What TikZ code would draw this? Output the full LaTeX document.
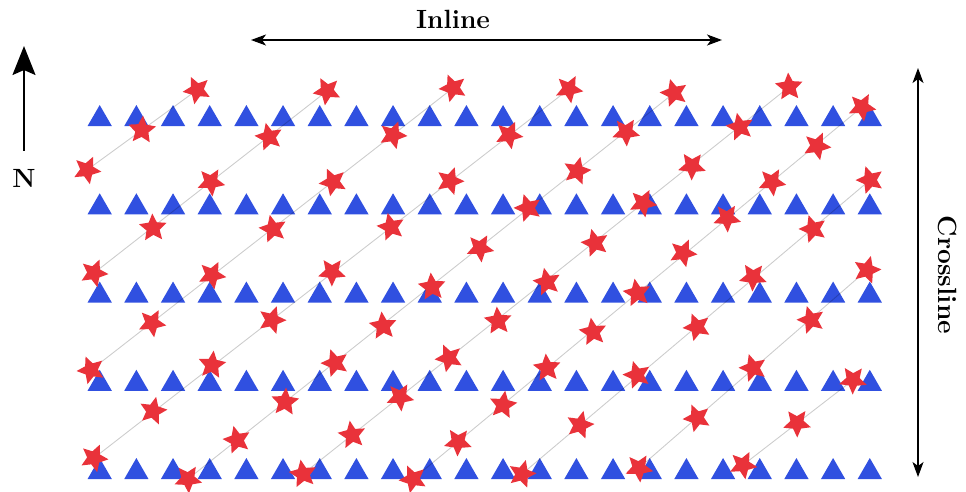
\documentclass[tikz,border=0pt]{standalone}
\usetikzlibrary{arrows.meta,backgrounds,shapes.geometric}
\definecolor{recblue}{RGB}{48,80,224}
\definecolor{shotred}{RGB}{233,50,58}

\begin{document}
\begin{tikzpicture}[x=0.02cm, y=-0.02cm,
        receiver/.style = {regular polygon, regular polygon sides=3,
                           fill=recblue, inner sep=0pt, minimum size=5.6mm},
            shot/.style = {star, star points=5, star point ratio=2.1,
                           fill=shotred, inner sep=0pt, minimum size=5.8mm},
        shotline/.style = {line width=0.5pt, black, opacity=0.2},
            span/.style = {line width=0.7pt,
                           {Stealth[length=3mm, width=2.2mm, inset=0.8mm]}-{Stealth[length=3mm, width=2.2mm, inset=0.8mm]}},
          needle/.style = {line width=1.2pt,
                           -{Stealth[length=5.8mm, width=4.6mm, inset=1mm]}},
             font = \fontsize{15}{18}\selectfont\bfseries
                                ]
    \useasboundingbox (0,0) rectangle (966,491);
    % shots, track by track
    \pgfmathsetseed{11}
    \foreach \t/\pts in {
            a/{(87,170),(142,130),(197,90)},
            b/{(94,273),(153,228),(211,182),(269,137),(327,91)},
            c/{(91,370),(152,323),(212,275),(273,229),(333,182),(393,135),(453,88)},
            d/{(94,458),(153,411),(212,365),(272,320),(332,272),(391,227),(450,181),(509,135),(569,89)},
            e/{(188,479),(237,440),(285,402),(335,363),(383,326),(432,287),(480,248),(528,208),(577,171),(626,132),(674,93)},
            f/{(303,474),(352,435),(400,397),(449,358),(498,321),(547,282),(595,243),(643,203),(692,166),(740,127),(789,87)},
            g/{(413,479),(458,442),(503,405),(547,368),(593,332),(637,293),(683,253),(727,218),(772,182),(817,146),(862,107)},
            h/{(522,474),(580,425),(637,375),(697,327),(753,277),(813,229),(870,180)},
            i/{(639,468),(697,418),(753,368),(811,320),(867,270)},
            j/{(743,465),(797,423),(853,380)}}
        \foreach \p [count=\k] in \pts
            \node[shot, rotate=72*rnd] (\t\k) at \p {};
    \begin{scope}[on background layer]
        % receiver lines
        \foreach \r in {0,...,4}
            \foreach \c in {0,...,21}
                \node[receiver] (r\r-\c) at ({99.7+36.67*\c},{119+88.25*\r}) {};
        % shot tracks
        \foreach \t/\n in {a/3,b/5,c/7,d/9,e/11,f/11,g/11,h/7,i/5,j/3}
            \draw[shotline] (\t1.center) -- (\t\n.center);
    \end{scope}
    % directions
    \node (inline) at (453,19) {Inline};
    \coordinate (inline-w) at (251,40);
    \coordinate (inline-e) at (722,40);
    \draw[span] (inline-w) -- (inline-e);

    \node[rotate=-90] (cross) at (948,275) {Crossline};
    \coordinate (cross-n) at (918,68);
    \coordinate (cross-s) at (918,477);
    \draw[span] (cross-n) -- (cross-s);

    \node (north) at (24,178) {N};
    \coordinate (north-tip) at (24,46);
    \draw[needle, shorten <=2.4mm] (north) -- (north-tip);
\end{tikzpicture}
\end{document}
